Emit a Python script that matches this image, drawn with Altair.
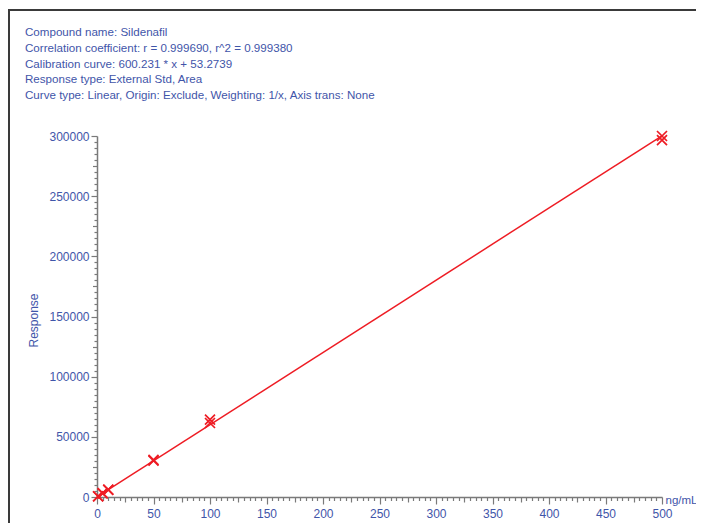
import altair as alt
import pandas as pd

# Data
conc = [1, 1, 5, 5, 10, 10, 50, 50, 100, 100, 500, 500]
response = [610, 580, 2950, 3150, 5900, 6200, 30300, 30900, 61500, 64300, 296500, 300000]
slope = 600.231
intercept = 53.2739
fit_x = [0, 500]
header_lines = [
    "Compound name: Sildenafil",
    "Correlation coefficient: r = 0.999690, r^2 = 0.999380",
    "Calibration curve: 600.231 * x + 53.2739",
    "Response type: External Std, Area",
    "Curve type: Linear, Origin: Exclude, Weighting: 1/x, Axis trans: None",
]
x_ticks = list(range(0, 501, 5))
y_ticks = list(range(0, 300001, 5000))

BLUE = "#3f55a9"
RED = "#ee1c24"
AXC = "#7a7a7a"
FONT = "Liberation Sans"

pts = pd.DataFrame({"conc": conc, "resp": response})
fit = pd.DataFrame({"conc": fit_x, "resp": [slope * v + intercept for v in fit_x]})

xscale = alt.Scale(domain=[0, 500], nice=False, zero=False)
yscale = alt.Scale(domain=[0, 300000], nice=False, zero=False)

xaxis = alt.Axis(
    values=x_ticks,
    labelExpr="datum.value % 50 === 0 ? datum.label : ''",
    format="d",
    grid=False,
    domainColor=AXC, domainWidth=1.5,
    tickColor=AXC, tickWidth=1.2,
    tickSize={"condition": [{"test": "datum.value % 50 === 0", "value": 7},
                            {"test": "datum.value % 25 === 0", "value": 5}],
              "value": 3.5},
    labelFont=FONT, labelFontSize=12, labelColor=BLUE, labelPadding=4,
    labelOverlap=False, labelFlush=False, labelBound=False,
    title="ng/mL", titleFont=FONT, titleFontSize=11.5, titleColor=BLUE,
    titleFontWeight="normal", titleX=568, titleY=3, titleAlign="left",
    titleBaseline="middle", titleAnchor="start",
)
yaxis = alt.Axis(
    values=y_ticks,
    labelExpr="datum.value % 50000 === 0 ? datum.label : ''",
    format="d",
    grid=False,
    domainColor=AXC, domainWidth=1.5,
    tickColor=AXC, tickWidth=1.2,
    tickSize={"condition": [{"test": "datum.value % 50000 === 0", "value": 6},
                            {"test": "datum.value % 25000 === 0", "value": 4.5}],
              "value": 3},
    labelFont=FONT, labelFontSize=12, labelColor=BLUE, labelPadding=2,
    labelOverlap=False, labelFlush=False, labelBound=False,
    title="Response", titleFont=FONT, titleFontSize=12, titleColor=BLUE,
    titleFontWeight="normal", titleX=-64, titleY=184, titleAngle=-90,
    titleAlign="center", titleBaseline="middle",
)

X = alt.X("conc:Q", scale=xscale, axis=xaxis)
Y = alt.Y("resp:Q", scale=yscale, axis=yaxis)

line = alt.Chart(fit).mark_line(color=RED, strokeWidth=1.5).encode(x=X, y=Y)
points = alt.Chart(pts).mark_point(
    shape="M -1 -1 L 1 1 M -1 1 L 1 -1", filled=False, color=RED,
    strokeWidth=1.7, size=100, opacity=1,
).encode(x=X, y=Y)

layers = [line, points]
for i, t in enumerate(header_lines):
    layers.append(
        alt.Chart(pd.DataFrame({"t": [t]})).mark_text(
            align="left", baseline="middle", font=FONT, fontSize=11.6, color=BLUE
        ).encode(text="t:N", x=alt.value(-72), y=alt.value(-103 + i * 15.75))
    )

frame_left = alt.Chart(pd.DataFrame({"a": [0]})).mark_rule(color="#3a3a3a", strokeWidth=2).encode(
    x=alt.value(-88), y=alt.value(-126), y2=alt.value(387)
)
frame_top = alt.Chart(pd.DataFrame({"a": [0]})).mark_rule(color="#3a3a3a", strokeWidth=2).encode(
    x=alt.value(-89), x2=alt.value(599), y=alt.value(-126)
)
layers += [frame_left, frame_top]

chart = alt.layer(*layers).properties(
    width=565, height=361,
    background="white",
    autosize=alt.AutoSizeParams(type="none"),
    padding={"left": 89, "top": 128, "right": 34, "bottom": 26},
).configure_view(stroke=None)

chart.save("out.html", embed_options={"renderer": "svg", "actions": False})
